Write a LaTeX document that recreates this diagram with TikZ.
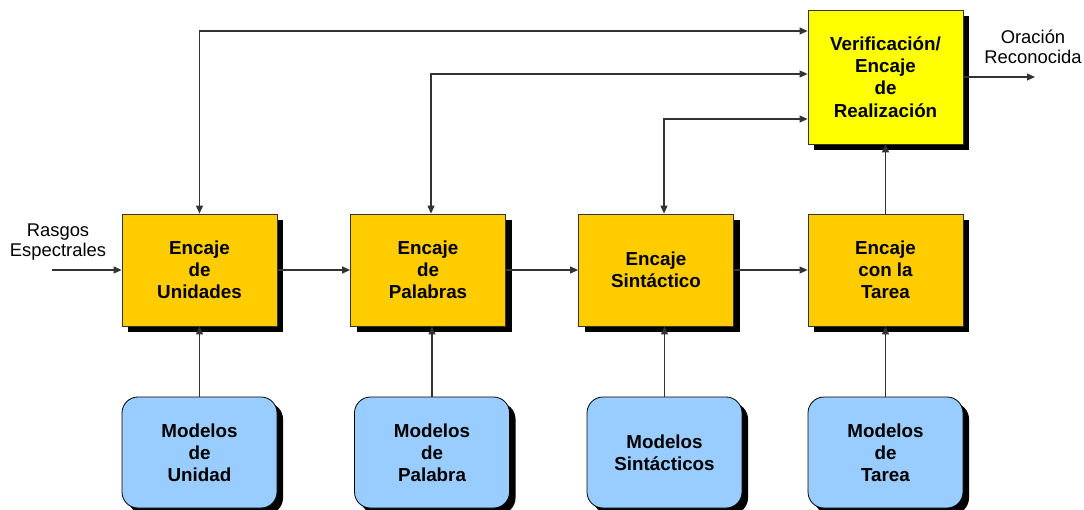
\documentclass[tikz,border=0pt]{standalone}
\usepackage{fontspec}
\setmainfont{Liberation Sans}
\usetikzlibrary{arrows.meta,shadows}
\definecolor{boxorange}{HTML}{FFCC00}
\definecolor{boxyellow}{HTML}{FFFF00}
\definecolor{boxblue}{HTML}{99CCFF}
\definecolor{linegray}{HTML}{333333}
\begin{document}
\begin{tikzpicture}[x=1pt,y=-1pt,
  >={Triangle[length=8pt,width=7pt]},
  shad/.style={drop shadow={shadow xshift=6pt,shadow yshift=-6pt,fill=black,opacity=1}},
  encbox/.style={draw=linegray,line width=0.8pt,fill=boxorange,shad,minimum width=155pt,minimum height=112pt,
    align=center,inner sep=0pt,font=\fontsize{18.8}{22.2}\selectfont\bfseries},
  topbox/.style={encbox,fill=boxyellow,minimum height=134pt},
  modbox/.style={draw=black,line width=0.8pt,fill=boxblue,shad,rounded corners=16pt,minimum width=155pt,minimum height=111pt,
    align=center,inner sep=0pt,font=\fontsize{18.8}{22}\selectfont\bfseries},
  lbl/.style={align=center,inner sep=0pt,font=\fontsize{18.4}{20}\selectfont},
  conn/.style={draw=linegray,line width=1.1pt,->},
  conn2/.style={draw=linegray,line width=1.1pt,<->}
]
\useasboundingbox (0,0) rectangle (1084,510);
\node[encbox] (b1) at (199.5,270) {Encaje\\de\\Unidades};
\node[encbox] (b2) at (428,270) {Encaje\\de\\Palabras};
\node[encbox] (b3) at (656,270) {Encaje\\Sintáctico};
\node[encbox] (b4) at (885.5,270) {Encaje\\con la\\Tarea};
\node[topbox] (top) at (885.5,77) {Verificación/\\Encaje\\de\\Realización};
\node[modbox] (m1) at (199.5,452.5) {Modelos\\de\\Unidad};
\node[modbox] (m2) at (432,452.5) {Modelos\\de\\Palabra};
\node[modbox] (m3) at (664.5,452.5) {Modelos\\Sintácticos};
\node[modbox] (m4) at (885.5,452.5) {Modelos\\de\\Tarea};
\node[lbl] (rasgos) at (58,242) {Rasgos\\Espectrales};
\node[lbl] (oracion) at (1033,47) {Oración\\Reconocida};
\coordinate (in) at (52,270);
\coordinate (out) at (1035,77);
\draw[conn] (in) -- (b1.west);
\draw[conn] (b1.east) -- (b2.west);
\draw[conn] (b2.east) -- (b3.west);
\draw[conn] (b3.east) -- (b4.west);
\draw[conn] (m1.north) -- (b1.south);
\draw[conn] (m2.north) -- (m2.north |- b2.south);
\draw[conn] (m3.north) -- (m3.north |- b3.south);
\draw[conn] (m4.north) -- (b4.south);
\draw[conn] (b4.north) -- (top.south);
\draw[conn] (top.east) -- (out);
\draw[conn2] (b1.north) |- (top.west |- 0,31);
\draw[conn2] (b2.north -| 431,0) |- (top.west |- 0,74);
\draw[conn2] (b3.north -| 664,0) |- (top.west |- 0,119);
\end{tikzpicture}
\end{document}
